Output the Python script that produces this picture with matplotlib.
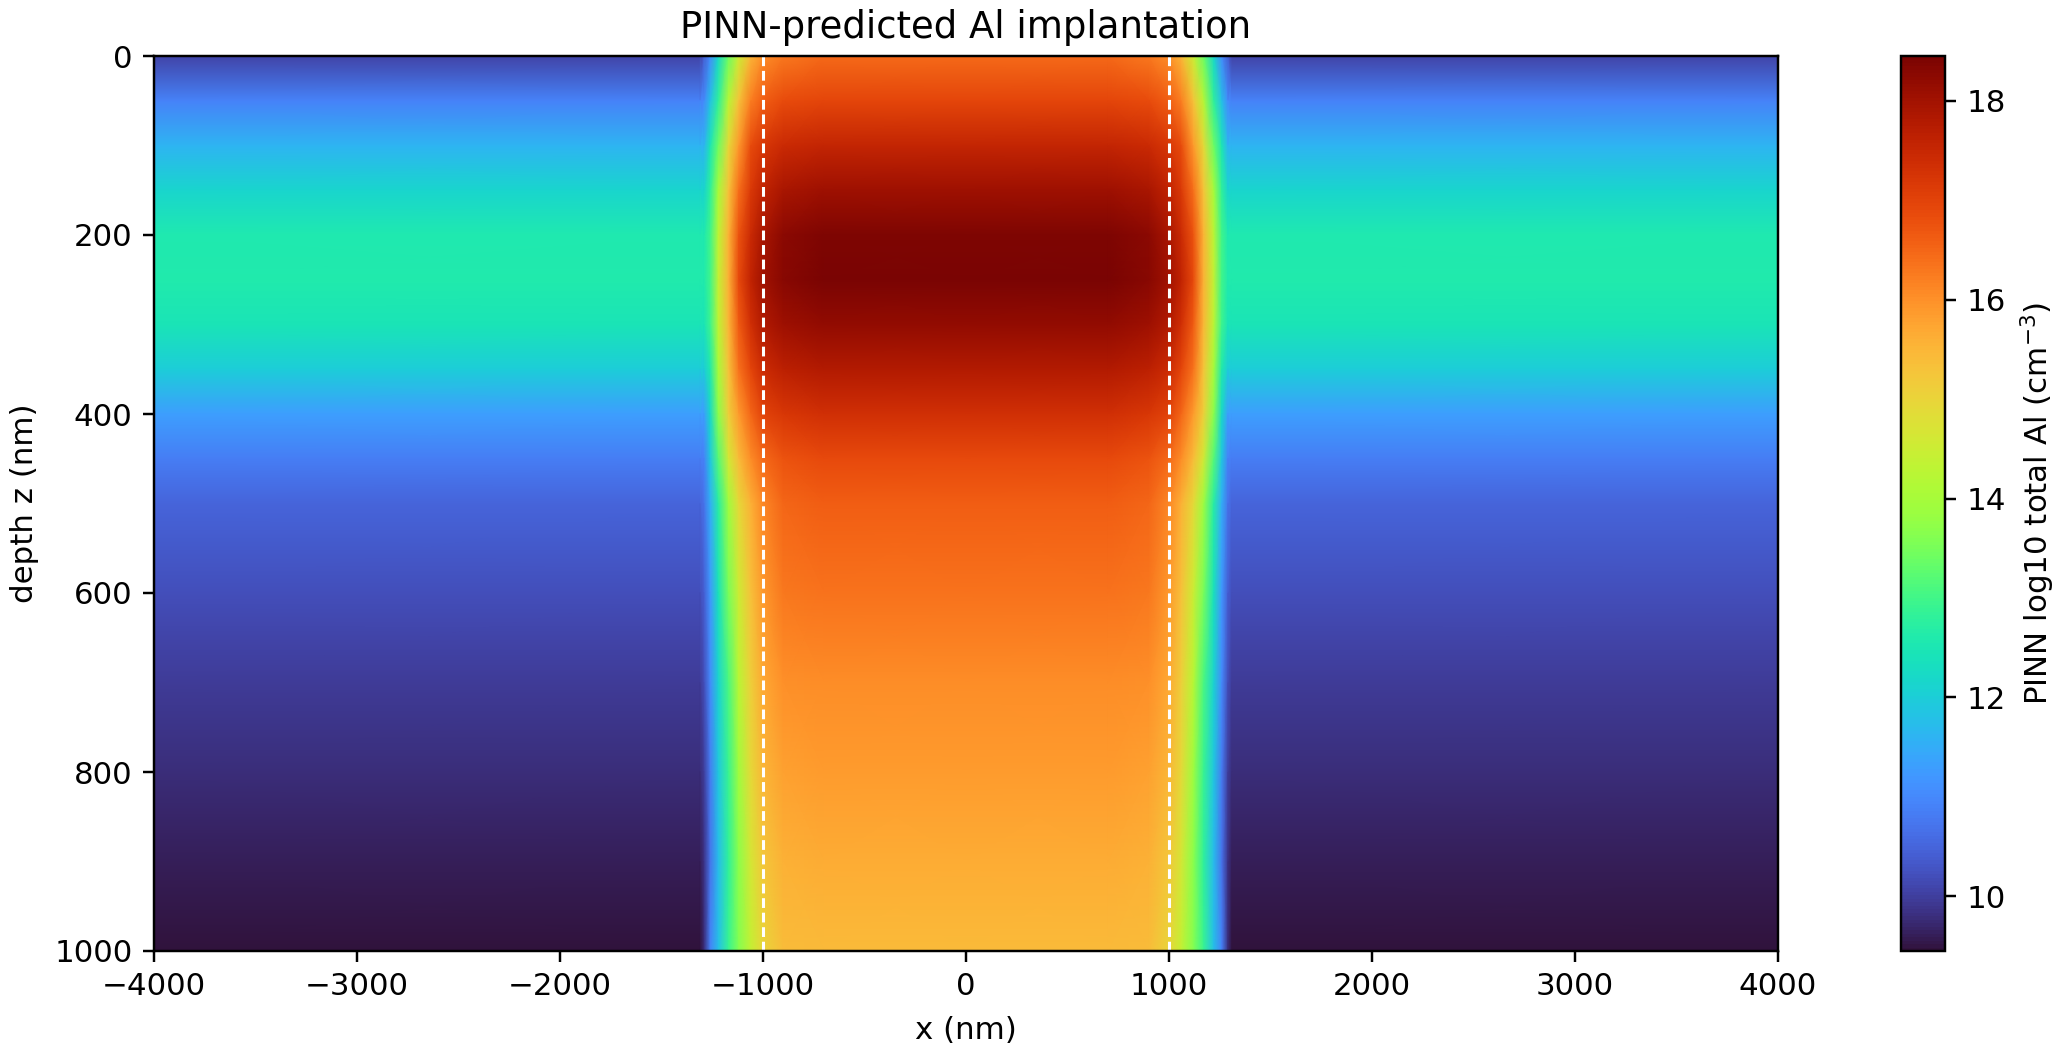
import matplotlib
matplotlib.use('Agg')
import matplotlib.pyplot as plt
import numpy as np

# distance from the window centre (nm), mirrored for the left half
x_half = [0, 700, 900, 1000, 1060, 1120, 1170, 1220, 1260, 1290, 1310, 4000]
depth = [0, 50, 100, 150, 200, 250, 300, 350, 400, 450, 500, 600, 700, 800, 900, 1000]

# log10 Al, one row per depth, one column per x_half
log_al = [
    [16.45, 16.45, 16.30, 16.05, 15.50, 14.50, 13.40, 12.20, 11.00, 10.40, 10.05, 10.05],
    [16.95, 16.95, 16.85, 16.60, 16.20, 15.30, 14.20, 12.80, 11.80, 11.00, 10.90, 10.90],
    [17.55, 17.55, 17.45, 17.20, 16.85, 15.90, 14.90, 13.40, 12.50, 11.60, 11.60, 11.60],
    [18.05, 18.05, 17.90, 17.60, 17.15, 16.40, 15.30, 14.00, 12.80, 12.15, 12.15, 12.15],
    [18.40, 18.40, 18.25, 17.90, 17.45, 16.75, 15.55, 14.30, 13.00, 12.55, 12.55, 12.55],
    [18.43, 18.43, 18.30, 18.00, 17.60, 16.90, 15.60, 14.40, 13.00, 12.60, 12.60, 12.60],
    [18.20, 18.20, 18.05, 17.80, 17.35, 16.65, 15.50, 14.30, 12.95, 12.45, 12.45, 12.45],
    [17.80, 17.80, 17.65, 17.40, 16.95, 16.35, 15.30, 14.00, 12.60, 12.00, 12.00, 12.00],
    [17.35, 17.35, 17.20, 17.00, 16.50, 15.85, 15.10, 13.70, 12.20, 11.30, 11.30, 11.30],
    [16.90, 16.90, 16.75, 16.45, 16.05, 15.40, 14.60, 13.20, 11.90, 10.90, 10.85, 10.85],
    [16.60, 16.60, 16.50, 16.10, 15.60, 14.90, 13.90, 12.70, 11.50, 10.70, 10.50, 10.50],
    [16.35, 16.35, 16.28, 15.90, 15.35, 14.50, 13.50, 12.40, 11.20, 10.40, 10.20, 10.20],
    [16.05, 16.05, 16.00, 15.70, 15.10, 14.20, 13.10, 12.10, 11.00, 10.20, 9.95, 9.95],
    [15.85, 15.85, 15.80, 15.50, 14.90, 13.90, 12.90, 11.90, 10.80, 10.00, 9.80, 9.80],
    [15.65, 15.65, 15.60, 15.25, 14.65, 13.70, 12.80, 11.70, 10.70, 9.85, 9.60, 9.60],
    [15.45, 15.45, 15.40, 15.00, 14.40, 13.60, 12.90, 11.80, 10.90, 9.80, 9.40, 9.40],
]

xticks = [-4000, -3000, -2000, -1000, 0, 1000, 2000, 3000, 4000]
yticks = [0, 200, 400, 600, 800, 1000]
cbar_ticks = [10, 12, 14, 16, 18]
mask_edges = [-1000, 1000]

W, H = 2068, 1056
DPI = 220
plt.rcParams['font.size'] = 10.1

half = np.array(log_al)
z_grid = np.hstack([half[:, :0:-1], half])
x_grid = np.r_[-np.array(x_half[:0:-1]), x_half]

fig = plt.figure(figsize=(W / DPI, H / DPI), dpi=DPI)
ax = fig.add_axes([154 / W, 1 - 951 / H, (1778 - 154) / W, (951 - 56) / H])
mesh = ax.pcolormesh(x_grid, depth, z_grid, cmap='turbo', vmin=9.45, vmax=18.45,
                     shading='gouraud', rasterized=True)
for xe in mask_edges:
    ax.axvline(xe, color='white', linestyle=(0, (3.2, 1.55)), linewidth=1.0)

ax.set_xlim(-4000, 4000)
ax.set_ylim(1000, 0)
ax.set_xticks(xticks)
ax.set_yticks(yticks)
ax.set_xlabel('x (nm)', labelpad=4.8)
ax.set_ylabel('depth z (nm)', labelpad=5.0)
ax.set_title('PINN-predicted Al implantation')

cax = fig.add_axes([1901 / W, 1 - 951 / H, 44 / W, (951 - 56) / H])
cbar = fig.colorbar(mesh, cax=cax)
cbar.set_ticks(cbar_ticks)
cbar.set_label('PINN log10 total Al (cm$^{-3}$)')

fig.savefig('out.png', dpi=DPI)
